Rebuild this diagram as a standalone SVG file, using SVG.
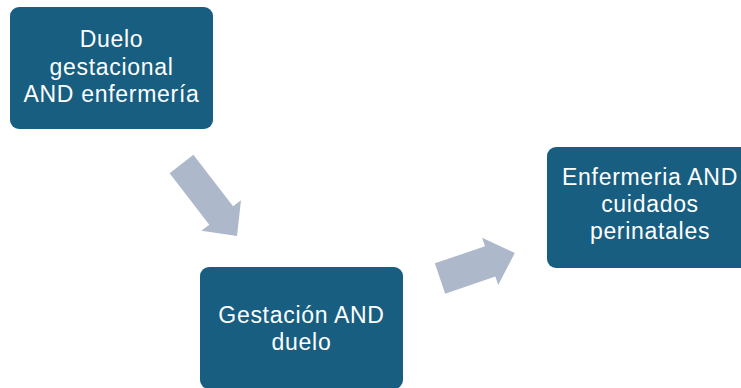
<svg xmlns="http://www.w3.org/2000/svg" width="741" height="388" viewBox="0 0 741 388">
<style>
.box{fill:#175E80;}
.t{fill:#FFFFFF;font-family:"Liberation Sans",Arial,sans-serif;font-size:23px;letter-spacing:0.7px;text-anchor:middle;}
.arr{fill:#ADB9CA;}
</style>
<rect width="741" height="388" fill="#FFFFFF"/>
<g id="connectors">
<polygon class="arr" transform="translate(181.5,164) rotate(52.4)" points="0,-15 65,-15 65,-25 91,0 65,25 65,15 0,15"/>
<polygon class="arr" transform="translate(440,278.5) rotate(-18.8)" points="0,-16 53,-16 53,-25 79,0 53,25 53,16 0,16"/>
</g>
<g id="node1">
<rect class="box" x="10" y="7" width="203" height="122" rx="9"/>
<text class="t" x="111.5" y="47">Duelo</text>
<text class="t" x="111.5" y="75">gestacional</text>
<text class="t" x="111.5" y="102">AND enfermería</text>
</g>
<g id="node2">
<rect class="box" x="200" y="267" width="203" height="122" rx="9"/>
<text class="t" x="301.5" y="323">Gestación AND</text>
<text class="t" x="301.5" y="350">duelo</text>
</g>
<g id="node3">
<rect class="box" x="547" y="147" width="206" height="121" rx="9"/>
<text class="t" x="650" y="185">Enfermeria AND</text>
<text class="t" x="650" y="212">cuidados</text>
<text class="t" x="650" y="239">perinatales</text>
</g>
</svg>
